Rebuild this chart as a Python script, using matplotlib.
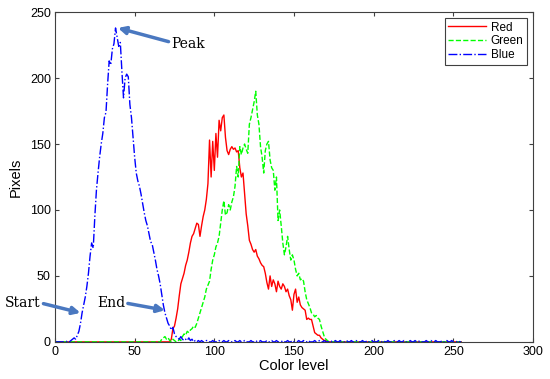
import numpy as np
import matplotlib.pyplot as plt

plt.rcParams["font.family"] = "Liberation Sans"

levels = np.arange(256)

# blue channel, levels 0..95 (then a flat noisy tail near zero)
blue_head = [
    0, 0, 0, 0, 0, 0, 0, 0, 1, 0,
    1, 2, 3, 2, 5, 8, 14, 22, 28, 34,
    42, 52, 65, 75, 71, 95, 115, 128, 140, 150,
    158, 170, 174, 195, 213, 210, 222, 226, 238, 231,
    224, 227, 205, 185, 200, 203, 201, 180, 170, 155,
    140, 128, 122, 118, 112, 105, 98, 92, 88, 82,
    76, 74, 68, 62, 55, 50, 44, 36, 28, 22,
    18, 14, 12, 9, 11, 6, 4, 3, 2, 4,
    2, 1, 2, 1, 3, 1, 2, 0, 1, 0,
    1, 0, 1, 0, 0, 1,
]
blue_tail = [1, 0, 0, 1, 0, 0, 0, 1, 0, 0] * 16
blue = blue_head + blue_tail

# red channel, levels 72..171
red_body = [
    0, 2, 10, 12, 18, 25, 35, 44,
    48, 52, 58, 62, 68, 75, 80, 82, 86, 90,
    89, 80, 88, 95, 100, 108, 120, 153, 125, 152,
    130, 158, 140, 168, 160, 170, 172, 155, 145, 142,
    146, 148, 146, 147, 144, 145, 132, 125, 128, 112,
    97, 88, 77, 74, 70, 68, 70, 65, 63, 60,
    58, 57, 52, 45, 40, 50, 42, 47, 44, 38,
    46, 42, 40, 44, 42, 38, 40, 35, 32, 24,
    36, 40, 30, 34, 28, 26, 25, 24, 17, 18,
    17, 17, 12, 7, 6, 5, 5, 3, 2, 1,
    1, 0,
]
red = [0] * 72 + red_body + [0] * (256 - 72 - len(red_body))

# green channel, levels 66..172
green_body = [
    0, 2, 3, 4, 2, 3, 1, 0, 2, 1,
    0, 0, 2, 1, 4, 6, 5, 8, 7, 9,
    10, 12, 11, 14, 18, 22, 26, 30, 34, 40,
    43, 46, 55, 62, 66, 72, 75, 80, 90, 100,
    107, 96, 98, 104, 100, 106, 110, 118, 133, 125,
    148, 142, 147, 150, 146, 143, 165, 170, 176, 182,
    190, 172, 165, 148, 140, 128, 145, 150, 152, 138,
    132, 130, 115, 125, 92, 100, 88, 75, 66, 72,
    80, 70, 62, 66, 62, 55, 50, 52, 47, 48,
    46, 38, 32, 29, 26, 22, 21, 19, 20, 18,
    17, 12, 8, 4, 2, 1, 0,
]
green = [0] * 66 + green_body + [0] * (256 - 66 - len(green_body))

fig = plt.figure(figsize=(5.5, 3.79), dpi=100)
ax = fig.add_axes([0.1, 0.098, 0.869, 0.87])

ax.plot(levels, red, color="#ff0000", lw=1.0, ls="-", label="Red")
ax.plot(levels, green, color="#00ff00", lw=1.0, ls="--", label="Green")
ax.plot(levels, blue, color="#0000ff", lw=1.0, ls="-.", label="Blue")

ax.set_xlim(0, 300)
ax.set_ylim(0, 250)
ax.set_xticks(range(0, 301, 50))
ax.set_yticks(range(0, 251, 50))
ax.tick_params(direction="in", top=True, right=True, labelsize=9,
               length=3, color="#404040", pad=3)
for s in ax.spines.values():
    s.set_color("#404040")
    s.set_linewidth(0.8)
ax.set_xlabel("Color level", fontsize=10.5, labelpad=1)
ax.set_ylabel("Pixels", fontsize=10.5, labelpad=5)

leg = ax.legend(loc="upper right", fontsize=8.5, fancybox=False,
                edgecolor="#404040", framealpha=1, handlelength=3.2,
                borderpad=0.3, labelspacing=0.15, handletextpad=0.4,
                borderaxespad=0.5)
leg.get_frame().set_linewidth(0.8)

arrow = dict(arrowstyle="-|>", color="#4a78c0", lw=2.5, mutation_scale=11,
             shrinkA=0, shrinkB=0)
serif = "DejaVu Serif"
ax.annotate("Peak", xy=(39.5, 238), xytext=(73, 226), fontsize=10,
            family=serif, va="center", ha="left",
            arrowprops=dict(arrow, relpos=(0, 0.6)))
ax.annotate("Start", xy=(16, 22), xytext=(-9, 29.5), fontsize=10,
            family=serif, va="center", ha="right", annotation_clip=False,
            arrowprops=dict(arrow, relpos=(1, 0.5)))
ax.annotate("End", xy=(69, 24), xytext=(44, 29.5), fontsize=10,
            family=serif, va="center", ha="right",
            arrowprops=dict(arrow, relpos=(1, 0.5)))

fig.savefig("out.png", dpi=100)
